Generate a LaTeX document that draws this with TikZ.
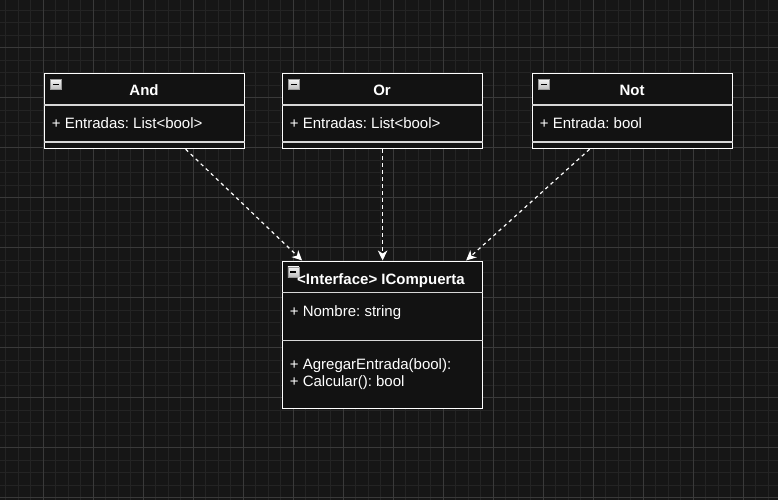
\documentclass[tikz,border=0pt]{standalone}
\usepackage{fontspec}
\setmainfont{Liberation Sans}
\usetikzlibrary{arrows.meta,calc}
\frenchspacing
\definecolor{bgc}{RGB}{22,22,22}
\definecolor{boxfill}{RGB}{18,18,18}
\definecolor{gridminor}{RGB}{36,36,36}
\definecolor{gridmajor}{RGB}{58,58,58}
\definecolor{sepc}{RGB}{215,215,215}
\tikzset{
  classbox/.style={draw=white, line width=1.2pt, fill=boxfill, minimum width=200pt, inner sep=0pt, anchor=north west},
  sepline/.style={draw=sepc, line width=1.2pt},
  ttl/.style={font=\bfseries\fontsize{15}{18}\selectfont, text=white, anchor=base, inner sep=0pt},
  attr/.style={font=\fontsize{15}{18}\selectfont, text=white, anchor=base west, inner sep=0pt},
  dep/.style={draw=white, line width=1.2pt, dash pattern=on 3.5pt off 3.5pt, -{Stealth[length=10pt,width=9.5pt,inset=3pt]}},
  iconbox/.style={draw=gray!80, line width=0.6pt, top color=white!92!gray, bottom color=gray!55!white, minimum width=11pt, minimum height=10.5pt, inner sep=0pt, anchor=north west,
    path picture={\draw[black, line width=1.3pt] ([xshift=-3pt]path picture bounding box.center) -- ([xshift=3pt]path picture bounding box.center);}},
  gminor/.style={draw=gridminor, line width=0.8pt},
  gmajor/.style={draw=gridmajor, line width=0.8pt}
}
\begin{document}
\begin{tikzpicture}[x=1pt,y=-1pt]
\useasboundingbox (0,0) rectangle (778,500);
\fill[bgc] (0,0) rectangle (778,500);
% grid
\foreach \i in {-3,...,59} \draw[gminor] ({43+12.5*\i},0) -- ({43+12.5*\i},500);
\foreach \i in {-4,...,37} \draw[gminor] (0,{47.5+12.5*\i}) -- (778,{47.5+12.5*\i});
\foreach \i in {0,...,14} \draw[gmajor] ({43+50*\i},0) -- ({43+50*\i},500);
\foreach \i in {0,...,9} \draw[gmajor] (0,{47.5+50*\i}) -- (778,{47.5+50*\i});

% And
\node[classbox, minimum height=75pt] (and) at (44,73) {};
\draw[sepline] ([yshift=-32pt]and.north west) -- ([yshift=-32pt]and.north east);
\draw[sepline] ([yshift=-69pt]and.north west) -- ([yshift=-69pt]and.north east);
\node[iconbox] (andicon) at ([xshift=6pt,yshift=-6pt]and.north west) {};
\node[ttl] (andt) at (144,95.7) {And};
\node[attr] (anda) at (51.7,128.3) {+ Entradas: List<bool>};

% Or
\node[classbox, minimum height=75pt] (or) at (282,73) {};
\draw[sepline] ([yshift=-32pt]or.north west) -- ([yshift=-32pt]or.north east);
\draw[sepline] ([yshift=-69pt]or.north west) -- ([yshift=-69pt]or.north east);
\node[iconbox] (oricon) at ([xshift=6pt,yshift=-6pt]or.north west) {};
\node[ttl] (ort) at (382,95.7) {Or};
\node[attr] (ora) at (289.7,128.3) {+ Entradas: List<bool>};

% Not
\node[classbox, minimum height=75pt] (not) at (532,73) {};
\draw[sepline] ([yshift=-32pt]not.north west) -- ([yshift=-32pt]not.north east);
\draw[sepline] ([yshift=-69pt]not.north west) -- ([yshift=-69pt]not.north east);
\node[iconbox] (noticon) at ([xshift=6pt,yshift=-6pt]not.north west) {};
\node[ttl] (nott) at (632,95.7) {Not};
\node[attr] (nota) at (539.7,128.3) {+ Entrada: bool};

% ICompuerta
\node[classbox, minimum height=147.5pt] (ic) at (282,260.5) {};
\draw[sepline] ([yshift=-32pt]ic.north west) -- ([yshift=-32pt]ic.north east);
\draw[sepline] ([yshift=-80pt]ic.north west) -- ([yshift=-80pt]ic.north east);
\node[iconbox] (icicon) at ([xshift=5.5pt,yshift=-6pt]ic.north west) {};
\node[ttl] (ict) at (381,284) {<Interface> ICompuerta};
\node[attr] (ica) at (289.7,316) {+ Nombre: string};
\node[attr] (icm1) at (289.7,369) {+ AgregarEntrada(bool):};
\node[attr] (icm2) at (289.7,386.7) {+ Calcular(): bool};

% dependencies
\draw[dep] ([xshift=41pt]and.south) -- ([xshift=-80.5pt]ic.north);
\draw[dep] (or.south) -- (ic.north);
\draw[dep] ([xshift=-43pt]not.south) -- ([xshift=83.5pt]ic.north);
\end{tikzpicture}
\end{document}
